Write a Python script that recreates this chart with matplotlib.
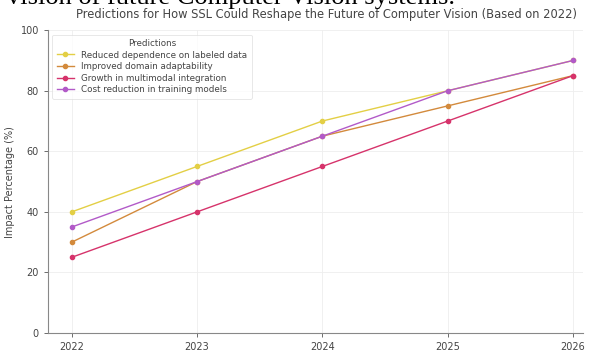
import matplotlib
matplotlib.use("Agg")
import matplotlib.pyplot as plt

years = [2022, 2023, 2024, 2025, 2026]
series_names = [
    "Reduced dependence on labeled data",
    "Improved domain adaptability",
    "Growth in multimodal integration",
    "Cost reduction in training models",
]
reduced_dependence = [40, 55, 70, 80, 90]
domain_adaptability = [30, 50, 65, 75, 85]
multimodal_growth = [25, 40, 55, 70, 85]
cost_reduction = [35, 50, 65, 80, 90]
y_ticks = [0, 20, 40, 60, 80, 100]

colors = ["#e3cf45", "#d38a3c", "#d6336b", "#b25ac8"]

fig = plt.figure(figsize=(5.92, 3.55), dpi=100)
ax = fig.add_axes([0.081, 0.062, 0.904, 0.853])

for vals, name, c in zip(
    [reduced_dependence, domain_adaptability, multimodal_growth, cost_reduction],
    series_names, colors):
    ax.plot(years, vals, marker="o", markersize=3, linewidth=1.0, color=c, label=name)

ax.set_xlim(2021.81, 2026.08)
ax.set_ylim(0, 100)
ax.set_xticks(years)
ax.set_yticks(y_ticks)
ax.tick_params(labelsize=7, colors="#555555", length=3, width=0.6)
for lbl in ax.get_xticklabels() + ax.get_yticklabels():
    lbl.set_color("#444444")
ax.grid(True, color="#eeeeee", linewidth=0.6)
for s in ["top", "right"]:
    ax.spines[s].set_visible(False)
for s in ["left", "bottom"]:
    ax.spines[s].set_color("#888888")
    ax.spines[s].set_linewidth(0.8)

ax.set_title("Predictions for How SSL Could Reshape the Future of Computer Vision (Based on 2022)",
             fontsize=8.3, color="#444444", pad=9, x=0.52)
ax.set_xlabel("Year", fontsize=7, color="#444444", labelpad=5)
ax.set_ylabel("Impact Percentage (%)", fontsize=7, color="#444444")

leg = ax.legend(title="Predictions", loc="upper left", fontsize=6.3, title_fontsize=6.3,
                frameon=True, borderpad=0.5, labelspacing=0.3, handlelength=2.0)
leg.get_frame().set_edgecolor("#dddddd")
leg.get_frame().set_linewidth(0.6)
for t in leg.get_texts():
    t.set_color("#444444")
leg.get_title().set_color("#444444")

fig.text(0.012, 0.989, "vision of future Computer Vision systems.", fontsize=19,
         family="Liberation Serif", color="black", va="baseline", ha="left")

fig.savefig("out.png", dpi=100)
